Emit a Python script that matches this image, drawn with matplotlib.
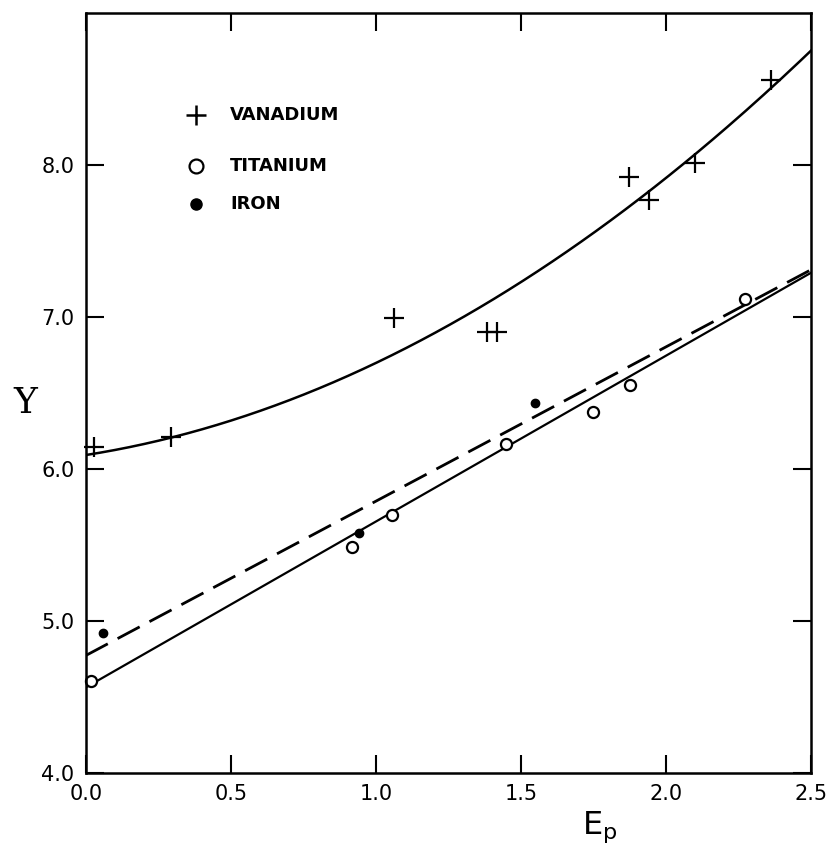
import numpy as np
import matplotlib
matplotlib.use("Agg")
import matplotlib.pyplot as plt

# puntos
v_x = [0.03, 0.295, 1.064, 1.383, 1.419, 1.871, 1.94, 2.10, 2.363]
v_y = [6.14, 6.21, 6.995, 6.90, 6.90, 7.92, 7.77, 8.01, 8.56]

ti_x = [0.018, 0.917, 1.057, 1.448, 1.747, 1.877, 2.271]
ti_y = [4.60, 5.486, 5.694, 6.16, 6.374, 6.55, 7.12]

fe_x = [0.059, 0.943, 1.547]
fe_y = [4.92, 5.58, 6.435]

# curvas dibujadas (coeficientes)
v_curve = [0.306, 0.30, 6.09]      # cuadratica
ti_line = [1.092, 4.56]
fe_line = [1.016, 4.77]

labels = ["VANADIUM", "TITANIUM", "IRON"]
x_ticks = [0.0, 0.5, 1.0, 1.5, 2.0, 2.5]
y_ticks = [4.0, 5.0, 6.0, 7.0, 8.0]

fig = plt.figure(figsize=(8.33, 8.52), dpi=100)
ax = fig.add_axes([0.1029, 0.0933, 0.8707, 0.8914])

xx = np.linspace(0, 2.5, 200)
ax.plot(xx, np.polyval(v_curve, xx), 'k-', lw=1.8)
ax.plot(xx, np.polyval(ti_line, xx), 'k-', lw=1.6)
ax.plot(xx, np.polyval(fe_line, xx), 'k-', lw=2.0, dashes=(9, 4))

ax.plot(v_x, v_y, 'k+', ms=14, mew=1.6, clip_on=False)
ax.plot(ti_x, ti_y, 'o', mfc='white', mec='k', ms=8, mew=1.6, clip_on=False)
ax.plot(fe_x, fe_y, 'ko', ms=6, clip_on=False)

# leyenda a mano
ax.plot([0.152], [0.866], 'k+', ms=14, mew=1.8, transform=ax.transAxes)
ax.plot([0.152], [0.799], 'o', mfc='white', mec='k', ms=10, mew=1.6, transform=ax.transAxes)
ax.plot([0.152], [0.749], 'ko', ms=8, transform=ax.transAxes)
for yy, lab in zip([0.866, 0.799, 0.749], labels):
    ax.text(0.199, yy, lab, transform=ax.transAxes, fontsize=13, fontweight='bold',
            va='center', ha='left')

ax.set_xlim(0, 2.5)
ax.set_ylim(4.0, 9.0)
ax.set_xticks(x_ticks)
ax.set_yticks(y_ticks)
ax.set_xticklabels(["%.1f" % t for t in x_ticks], fontsize=15)
ax.set_yticklabels(["%.1f" % t for t in y_ticks], fontsize=15)
ax.tick_params(direction='in', length=13, width=1.5, top=True, right=True, pad=8)
for s in ax.spines.values():
    s.set_linewidth(1.8)

fig.text(25 / 833, 1 - 403 / 852, "Y", fontsize=26, family='DejaVu Serif', ha='center', va='center')
fig.text(600 / 833, 1 - 827 / 852, "E$_\\mathregular{p}$", fontsize=23, ha='center', va='center')

fig.savefig("out.png", dpi=100)
